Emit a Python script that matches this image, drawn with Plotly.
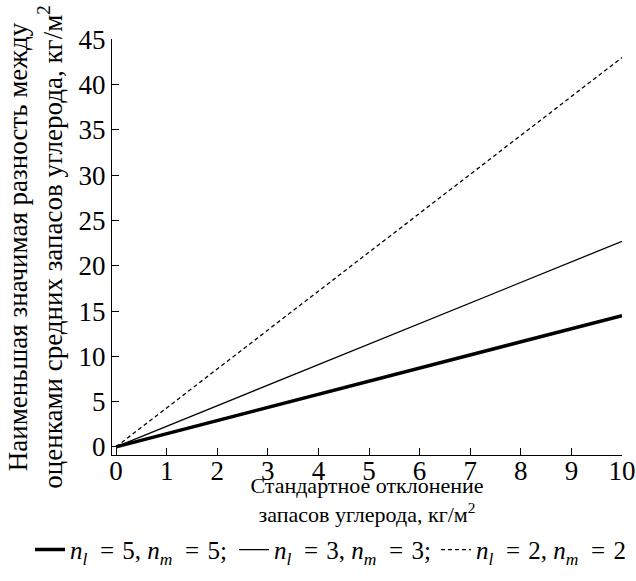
import plotly.graph_objects as go

# Data (straight lines from origin)
sd_x = [0, 10]
lsd_n5 = [0, 14.5]
lsd_n3 = [0, 22.7]
lsd_n2 = [0, 43.0]

x_ticks = list(range(0, 11))
y_ticks = list(range(0, 50, 5))

EQ = "\u2002=\u2004"
names = [
    f"<i>n<sub>l</sub></i>{EQ}5, <i>n<sub>m</sub></i>{EQ}5;",
    f"<i>n<sub>l</sub></i>{EQ}3, <i>n<sub>m</sub></i>{EQ}3;",
    f"<i>n<sub>l</sub></i>{EQ}2, <i>n<sub>m</sub></i>{EQ}2",
]

FONT = "Liberation Serif, Times New Roman, serif"

fig = go.Figure()
fig.add_trace(go.Scatter(x=sd_x, y=lsd_n5, mode="lines", legend="legend",
                         line=dict(color="black", width=3.5), name=names[0]))
fig.add_trace(go.Scatter(x=sd_x, y=lsd_n3, mode="lines", legend="legend2",
                         line=dict(color="black", width=1.3), name=names[1]))
fig.add_trace(go.Scatter(x=sd_x, y=lsd_n2, mode="lines", legend="legend3",
                         line=dict(color="black", width=1.3, dash="4px,3px"), name=names[2]))

leg_common = dict(orientation="h", xanchor="left", xref="container",
                  y=0.014, yanchor="bottom", yref="container",
                  font=dict(family=FONT, size=25, color="black"),
                  itemwidth=30, bgcolor="rgba(0,0,0,0)")

fig.update_layout(
    width=636, height=581,
    paper_bgcolor="white", plot_bgcolor="white",
    margin=dict(l=112, r=14, t=39, b=126),
    font=dict(family=FONT, size=25, color="black"),
    showlegend=True,
    legend=dict(x=30 / 636, **leg_common),
    legend2=dict(x=234 / 636, **leg_common),
    legend3=dict(x=436 / 636, **leg_common),
    xaxis=dict(range=[-0.08, 10], tickvals=x_ticks, ticks="inside", ticklen=7,
               tickcolor="black", showline=True, linecolor="black", linewidth=1,
               showgrid=False, zeroline=False, mirror=False, automargin=False,
               ticklabelstandoff=-8,
               tickfont=dict(family=FONT, size=27),
               title=dict(text="Стандартное отклонение<br>запасов углерода, кг/м<sup>2</sup>",
                          font=dict(family=FONT, size=22), standoff=4)),
    yaxis=dict(range=[-0.9, 45.05], tickvals=y_ticks, ticks="inside", ticklen=7,
               tickcolor="black", showline=True, linecolor="black", linewidth=1,
               showgrid=False, zeroline=False, mirror=False, automargin=False,
               tickfont=dict(family=FONT, size=27),
               title=dict(text="Наименьшая значимая разность между<br>оценками средних запасов углерода, кг/м<sup>2</sup>",
                          font=dict(family=FONT, size=27), standoff=8)),
)

fig.write_html("out.html", config={"displayModeBar": False},
               post_script="document.body.style.margin='0';")
